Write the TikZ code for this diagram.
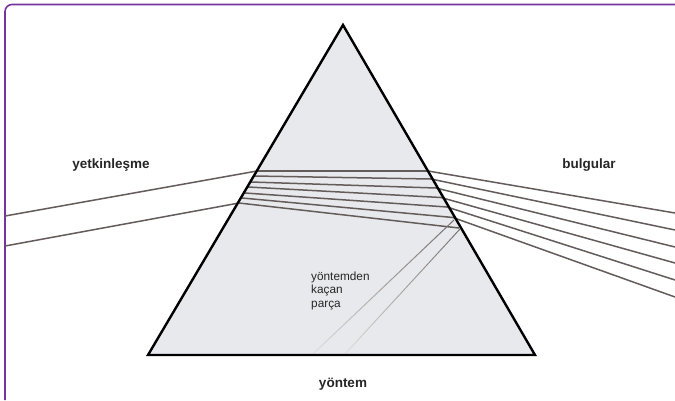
\documentclass[tikz,border=0pt]{standalone}
\usepackage{fontspec}
\setmainfont{Liberation Sans}
\usetikzlibrary{calc}
\definecolor{frame}{RGB}{118,52,160}
\definecolor{ray}{RGB}{100,92,90}
\definecolor{prismfill}{RGB}{232,233,236}
\tikzset{
  raystyle/.style={draw=ray, line width=1.5pt},
  lbl/.style={font=\bfseries\fontsize{13.5}{15}\selectfont, text=black!85, inner sep=0pt},
  smalllbl/.style={font=\fontsize{11.8}{13.2}\selectfont, text=black!85, inner sep=0pt, align=left}
}
\begin{document}
\begin{tikzpicture}[x=1pt,y=-1pt]
\useasboundingbox (0,0) rectangle (675,400);
\fill[white] (0,0) rectangle (675,400);
% frame
\draw[frame, line width=1.6pt, rounded corners=7pt] (5,400) -- (5,4.5) -- (675,4.5);
% prism
\coordinate (apex) at (343,25);
\coordinate (bl) at (148,355);
\coordinate (br) at (535,355);
\fill[prismfill] (apex) -- (bl) -- (br) -- cycle;
% incoming rays
\coordinate (in1s) at (5,216);
\coordinate (in1e) at (257,171);
\coordinate (in2s) at (5,246);
\coordinate (in2e) at (239,203);
\draw[raystyle] (in1s) -- (in1e);
\draw[raystyle] (in2s) -- (in2e);
% inside lines
\coordinate (l1) at (257,171); \coordinate (r1) at (428,171);
\coordinate (l2) at (254,176); \coordinate (r2) at (431,179);
\coordinate (l3) at (251,182); \coordinate (r3) at (436,188);
\coordinate (l4) at (248,187); \coordinate (r4) at (441,197.5);
\coordinate (l5) at (245,193); \coordinate (r5) at (447,207);
\coordinate (l6) at (242,198); \coordinate (r6) at (453,217.5);
\coordinate (l7) at (239,203); \coordinate (r7) at (459,228);
\foreach \i in {1,...,7}{\draw[raystyle] (l\i) -- (r\i);}
% outgoing lines
\coordinate (o1) at (675,213);
\coordinate (o2) at (675,230);
\coordinate (o3) at (675,247);
\coordinate (o4) at (675,263);
\coordinate (o5) at (675,280);
\coordinate (o6) at (675,297);
\foreach \i in {1,...,6}{\draw[raystyle] (r\i) -- (o\i);}
% escaping part
\coordinate (e1s) at (454,220); \coordinate (e1e) at (313,354);
\coordinate (e2s) at (460,229); \coordinate (e2e) at (345,354);
\shade[left color=ray!20, right color=ray!90] (e1e) -- ++(0,-0.7) -- ($(e1s)+(0,-0.7)$) -- ++(0,1.4) -- ($(e1e)+(0,0.7)$) -- cycle;
\shade[left color=ray!20, right color=ray!90] (e2e) -- ++(0,-0.7) -- ($(e2s)+(0,-0.7)$) -- ++(0,1.4) -- ($(e2e)+(0,0.7)$) -- cycle;
% prism outline
\draw[black, line width=2.4pt, line join=miter] (apex) -- (bl) -- (br) -- cycle;
% labels
\node[lbl] (yet) at (111,165) {yetkinleşme};
\node[lbl] (bul) at (589,165) {bulgular};
\node[lbl] (yon) at (343,384) {yöntem};
\node[smalllbl, anchor=north west] (kac) at (311,272) {yöntemden\\kaçan\\parça};
\end{tikzpicture}
\end{document}
